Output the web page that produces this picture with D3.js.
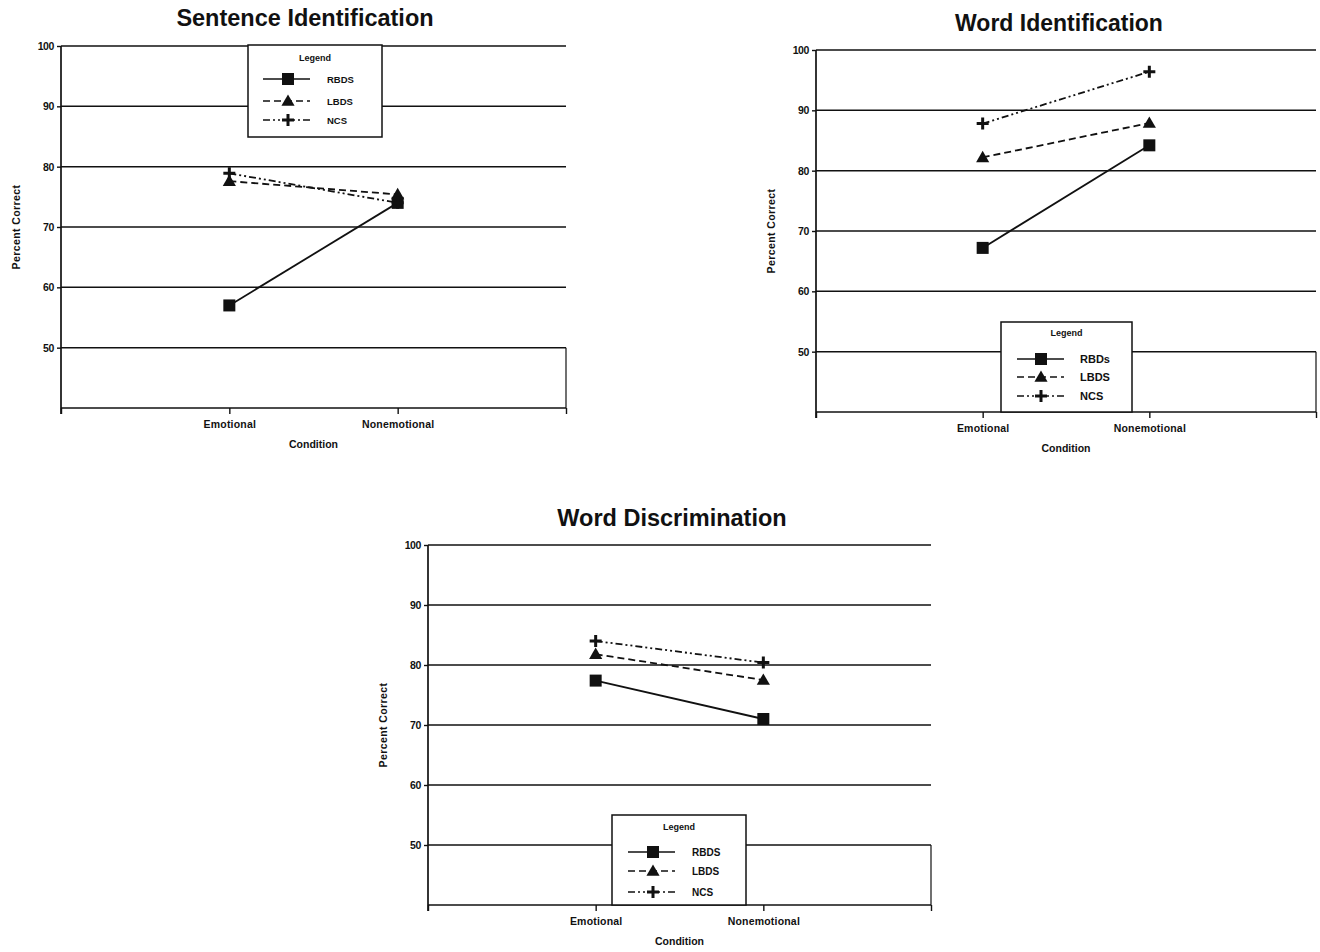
<!DOCTYPE html>
<html><head><meta charset="utf-8">
<script src="https://cdn.jsdelivr.net/npm/d3@7"></script>
<style>
body{margin:0;background:#fff;}
svg{display:block;font-family:"Liberation Sans",Arial,sans-serif;}
</style></head>
<body><svg id="c" width="1320" height="952"></svg>
<script>
// ---- data ----
const conditions = ["Emotional", "Nonemotional"];
const yTicks = [50, 60, 70, 80, 90, 100];
const groups = ["RBDS", "LBDS", "NCS"];

const sentenceRBDS = [57, 74];
const sentenceLBDS = [77.6, 75.4];
const sentenceNCS  = [78.9, 74];

const wordIdRBDS = [67.2, 84.2];
const wordIdLBDS = [82.2, 87.9];
const wordIdNCS  = [87.8, 96.4];

const wordDiscRBDS = [77.4, 71];
const wordDiscLBDS = [81.8, 77.5];
const wordDiscNCS  = [84, 80.4];

const titles = ["Sentence Identification", "Word Identification", "Word Discrimination"];
const legendLabels1 = ["RBDS", "LBDS", "NCS"];
const legendLabels2 = ["RBDs", "LBDS", "NCS"];
const legendLabels3 = ["RBDS", "LBDS", "NCS"];

// ---- layout ----
const svg = d3.select("#c");
const dashes = [null, "7,4", "7,3,2,3,2,3"];
const FONT = "'Liberation Sans',Arial,sans-serif";

const panels = [
  {title: titles[0], series:[sentenceRBDS, sentenceLBDS, sentenceNCS], labels: legendLabels1,
   x0:61, x1:566, y0:46, y1:408, titleX:305, titleY:26, titleSize:23.5, yTitleX:20,
   leg:{x:248, y:45, w:134, h:92, titleY:13, rows:[34,56,75], lx0:15, lx1:62, mx:40, tx:79, fs:9.5, tfs:9}},
  {title: titles[1], series:[wordIdRBDS, wordIdLBDS, wordIdNCS], labels: legendLabels2,
   x0:816, x1:1316, y0:50, y1:412, titleX:1059, titleY:31, titleSize:23, yTitleX:775,
   leg:{x:1001, y:322, w:131, h:90, titleY:11, rows:[37,55,74], lx0:16, lx1:63, mx:40, tx:79, fs:11, tfs:9}},
  {title: titles[2], series:[wordDiscRBDS, wordDiscLBDS, wordDiscNCS], labels: legendLabels3,
   x0:428, x1:931, y0:545, y1:905, titleX:672, titleY:526, titleSize:23.5, yTitleX:387,
   leg:{x:612, y:815, w:134, h:90, titleY:12, rows:[37,56,77], lx0:16, lx1:63, mx:41, tx:80, fs:10, tfs:9}}
];

function marker(g, i, x, y){
  if(i===0){
    g.append("rect").attr("x",x-6).attr("y",y-6).attr("width",12).attr("height",12).attr("fill","#111");
  } else if(i===1){
    const s=d3.symbol().type(d3.symbolTriangle).size(75);
    g.append("path").attr("d",s()).attr("transform",`translate(${x},${y+1})`).attr("fill","#111");
  } else {
    g.append("path").attr("d",`M${x-6},${y}H${x+6}M${x},${y-6}V${y+6}`)
      .attr("stroke","#111").attr("stroke-width",3).attr("fill","none");
  }
}

panels.forEach(p=>{
  const g = svg.append("g");
  const y = d3.scaleLinear().domain([40,100]).range([p.y1,p.y0]);
  const x = d3.scalePoint().domain(["", ...conditions, " "]).range([p.x0,p.x1]);

  // title
  g.append("text").attr("x",p.titleX).attr("y",p.titleY).attr("text-anchor","middle")
    .attr("font-size",p.titleSize).attr("font-weight","bold").attr("fill","#111").text(p.title);

  // gridlines
  g.append("g").selectAll("line").data(yTicks).join("line")
    .attr("x1",p.x0).attr("x2",p.x1).attr("y1",d=>y(d)).attr("y2",d=>y(d))
    .attr("stroke","#111").attr("stroke-width",1.5);
  // right border of lowest band
  g.append("line").attr("x1",p.x1).attr("x2",p.x1).attr("y1",y(50)).attr("y2",y(40))
    .attr("stroke","#111").attr("stroke-width",1.2);

  // y axis
  const ya = d3.axisLeft(y).tickValues(yTicks).tickSize(4).tickPadding(3);
  const yg = g.append("g").attr("transform",`translate(${p.x0},0)`).call(ya);
  yg.select(".domain").attr("stroke","#111").attr("stroke-width",1.7).attr("d",`M-0,${p.y0}V${p.y1+6}`);
  yg.selectAll(".tick line").attr("stroke","#111").attr("stroke-width",1.4);
  yg.selectAll(".tick text").attr("font-size",10.5).attr("font-weight","bold").attr("fill","#111")
    .attr("font-family",FONT).attr("letter-spacing","-0.4");

  // x axis
  const xa = d3.axisBottom(x).tickSize(6).tickPadding(7);
  const xg = g.append("g").attr("transform",`translate(0,${p.y1})`).call(xa);
  xg.select(".domain").attr("stroke","#111").attr("stroke-width",1.7).attr("d",`M${p.x0},0H${p.x1}`);
  xg.selectAll(".tick line").attr("stroke","#111").attr("stroke-width",1.4);
  xg.selectAll(".tick text").attr("font-size",10.5).attr("font-weight","bold").attr("fill","#111")
    .attr("font-family",FONT).attr("letter-spacing","0.2");

  // axis titles
  g.append("text").attr("x",(p.x0+p.x1)/2).attr("y",p.y1+40).attr("text-anchor","middle")
    .attr("font-size",10.5).attr("font-weight","bold").attr("fill","#111").text("Condition");
  g.append("text").attr("transform",`translate(${p.yTitleX},${(p.y0+p.y1)/2}) rotate(-90)`)
    .attr("text-anchor","middle").attr("font-size",10.5).attr("font-weight","bold").attr("fill","#111")
    .attr("letter-spacing","0.4").text("Percent Correct");

  // series
  const line = d3.line().x((d,i)=>x(conditions[i])).y(d=>y(d));
  p.series.forEach((vals,si)=>{
    g.append("path").datum(vals).attr("d",line).attr("fill","none").attr("stroke","#111")
      .attr("stroke-width",1.8).attr("stroke-dasharray",dashes[si]);
  });
  p.series.forEach((vals,si)=>{
    vals.forEach((v,i)=>marker(g, si, x(conditions[i]), y(v)));
  });

  // legend
  const L = p.leg;
  const lg = g.append("g").attr("transform",`translate(${L.x},${L.y})`);
  lg.append("rect").attr("width",L.w).attr("height",L.h).attr("fill","#fff")
    .attr("stroke","#111").attr("stroke-width",1.5);
  lg.append("text").attr("x",L.w/2).attr("y",L.titleY+3).attr("text-anchor","middle")
    .attr("font-size",L.tfs).attr("font-weight","bold").attr("fill","#111").text("Legend");
  p.labels.forEach((lab,si)=>{
    const ry = L.rows[si];
    lg.append("line").attr("x1",L.lx0).attr("x2",L.lx1).attr("y1",ry).attr("y2",ry)
      .attr("stroke","#111").attr("stroke-width",1.6).attr("stroke-dasharray",dashes[si]);
    marker(lg, si, L.mx, ry);
    lg.append("text").attr("x",L.tx).attr("y",ry+4).attr("font-size",L.fs).attr("font-weight","bold")
      .attr("fill","#111").text(lab);
  });
});
</script></body></html>
